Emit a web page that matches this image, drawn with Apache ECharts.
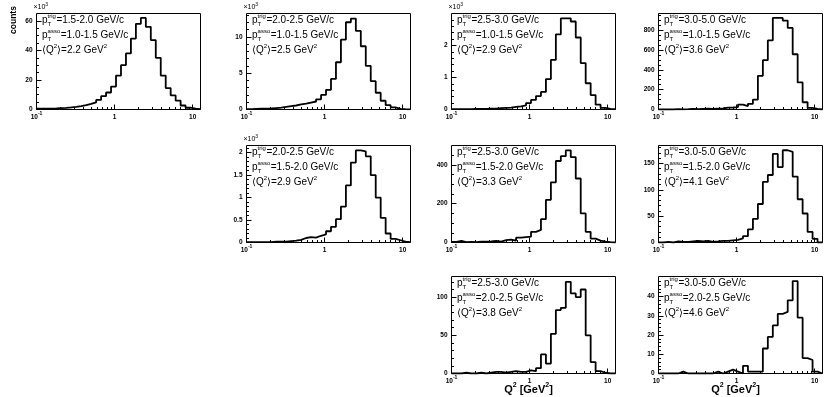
<!DOCTYPE html>
<html>
<head>
<meta charset="utf-8">
<script src="https://cdn.jsdelivr.net/npm/echarts@6/dist/echarts.min.js"></script>
<style>
html, body { margin: 0; padding: 0; background: #fff; }
#main { width: 830px; height: 397px; }
</style>
</head>
<body>
<div id="main"></div>
<script>
// bin edges of the Q^2 histograms (log spaced, GeV^2)
var edges = [0.1, 0.1158, 0.1341, 0.1552, 0.1797, 0.2080, 0.2409, 0.2789, 0.3229, 0.3739,
    0.4329, 0.5012, 0.5803, 0.6718, 0.7779, 0.9006, 1.0427, 1.2073, 1.3978, 1.6184,
    1.8738, 2.1695, 2.5119, 2.9084, 3.3674, 3.8989, 4.5142, 5.2264, 6.0508, 7.0057,
    8.1113, 9.3913, 10.873, 12.589];

// counts per bin (panels with x10^3 are in thousands)
var p1 = [0.5, 0.6, 0.6, 0.7, 0.9, 1.1, 1.4, 1.8, 2.3, 3.0, 3.8, 4.8, 6.5, 9.0, 11.5, 15.5, 23, 30, 38, 48, 58, 62, 56, 47, 35, 23, 14.5, 9.5, 6, 2.7, 1.2, 0.6, 0.3];
var p2 = [0.06, 0.08, 0.1, 0.12, 0.15, 0.2, 0.25, 0.35, 0.45, 0.55, 0.7, 0.8, 0.95, 1.1, 1.4, 2.0, 2.7, 4.2, 6.5, 9.6, 12.0, 12.5, 10.8, 8.7, 6.0, 3.9, 2.3, 1.2, 0.6, 0.3, 0.1, 0.05, 0.02];
var p3 = [0.01, 0.01, 0.01, 0.01, 0.02, 0.02, 0.02, 0.03, 0.03, 0.04, 0.05, 0.06, 0.08, 0.1, 0.13, 0.2, 0.3, 0.42, 0.55, 0.95, 1.55, 2.35, 2.85, 2.85, 2.75, 2.25, 1.45, 0.82, 0.45, 0.15, 0.05, 0.02, 0.01];
var p4 = [0, 2, 0, 3, 2, 3, 5, 4, 6, 8, 5, 8, 10, 18, 20, 25, 50, 35, 57, 100, 340, 497, 697, 923, 923, 897, 823, 557, 273, 73, 17, 7, 0];
var p5 = [0.01, 0.01, 0.01, 0.01, 0.01, 0.02, 0.02, 0.02, 0.03, 0.04, 0.06, 0.1, 0.12, 0.11, 0.15, 0.18, 0.25, 0.35, 0.52, 0.8, 1.27, 1.78, 2.05, 2.03, 1.92, 1.5, 1.0, 0.55, 0.2, 0.08, 0.05, 0.02, 0.01];
var p6 = [3, 8, 2, 3, 2, 4, 5, 6, 8, 5, 12, 15, 10, 25, 28, 30, 55, 65, 120, 220, 310, 420, 445, 475, 440, 330, 150, 55, 20, 10, 5, 2, 0];
var p7 = [0, 1, 0, 2, 1, 1, 2, 3, 2, 3, 1, 2, 3, 3, 4, 5, 8, 12, 25, 45, 73, 115, 128, 168, 143, 175, 172, 125, 82, 55, 20, 7, 0];
var p8 = [0, 0, 1, 0, 0, 1, 0, 1, 2, 2, 1, 2, 3, 2, 2, 4, 3, 7, 25, 13, 52, 83, 86, 120, 105, 100, 110, 50, 15, 3, 1, 0, 0];
var p9 = [0, 0, 0, 0, 1, 0, 0, 0, 0, 0, 0, 1, 0, 1, 2, 1, 0, 4, 1, 1, 1, 13, 19, 25, 31, 32, 38, 48, 29, 8, 7, 1, 0];

// panel labels
var trigRange = ['1.5-2.0', '2.0-2.5', '2.5-3.0', '3.0-5.0', '2.0-2.5', '2.5-3.0', '3.0-5.0', '2.5-3.0', '3.0-5.0'];
var assoRange = ['1.0-1.5', '1.0-1.5', '1.0-1.5', '1.0-1.5', '1.5-2.0', '1.5-2.0', '1.5-2.0', '2.0-2.5', '2.0-2.5'];
var meanQ2 = ['2.2', '2.5', '2.9', '3.6', '2.9', '3.3', '4.1', '3.8', '4.6'];

// tick labels
var xTicks = [0.1, 1, 10];
var xMinorTicks = [0.2, 0.3, 0.4, 0.5, 0.6, 0.7, 0.8, 0.9, 2, 3, 4, 5, 6, 7, 8, 9];
var yTicks = [
    [0, 20, 40, 60], [0, 5, 10], [0, 1, 2], [0, 200, 400, 600, 800],
    [0, 0.5, 1, 1.5, 2], [0, 200, 400], [0, 50, 100, 150], [0, 50, 100], [0, 10, 20, 30, 40]
];

var FONT = '"Liberation Sans", Arial, sans-serif';
var colLeft = [36.5, 246.5, 451.5, 658.5];
var rowTop = [13.5, 145.5, 276.5];
var rowH = [96, 97, 97];
var W = 164;

var panels = [
    {col: 0, row: 0, data: p1, ymax: 65, step: 20, minor: 4, exp: true},
    {col: 1, row: 0, data: p2, ymax: 13.2, step: 5, minor: 5, exp: true},
    {col: 2, row: 0, data: p3, ymax: 3.0, step: 1, minor: 5, exp: true},
    {col: 3, row: 0, data: p4, ymax: 968, step: 200, minor: 4},
    {col: 1, row: 1, data: p5, ymax: 2.16, step: 0.5, minor: 5, exp: true},
    {col: 2, row: 1, data: p6, ymax: 500, step: 200, minor: 4},
    {col: 3, row: 1, data: p7, ymax: 184, step: 50, minor: 5},
    {col: 2, row: 2, data: p8, ymax: 127, step: 50, minor: 5, title: true},
    {col: 3, row: 2, data: p9, ymax: 50.4, step: 10, minor: 5, title: true}
];

var ctx = document.createElement('canvas').getContext('2d');
function measure(s, size, bold) {
    ctx.font = (bold ? 'bold ' : '') + size + 'px ' + FONT;
    return ctx.measureText(s).width;
}
var graphics = [];
function txt(x, y, s, size, bold) {
    return {
        type: 'text', x: x, y: y, silent: true,
        style: {
            text: s, font: (bold ? 'bold ' : '') + size + 'px ' + FONT, fill: '#000',
            textAlign: 'left', textVerticalAlign: 'middle', align: 'left', verticalAlign: 'middle'
        }
    };
}
function addPieces(x, y, pieces, bold) {
    pieces.forEach(function (pc) {
        if (pc.sup !== undefined) {
            graphics.push(txt(x, y - 4, pc.sup, pc.s, bold));
            graphics.push(txt(x, y + 4, pc.sub, pc.s, bold));
            x += Math.max(measure(pc.sup, pc.s, bold), measure(pc.sub, pc.s, bold)) + 0.5;
        } else {
            graphics.push(txt(x, y + (pc.dy || 0), pc.t, pc.s, bold));
            x += measure(pc.t, pc.s, bold);
        }
    });
    return x;
}
function piecesWidth(pieces, bold) {
    var w = 0;
    pieces.forEach(function (pc) { w += measure(pc.t, pc.s, bold); });
    return w;
}

function histPoints(vals) {
    var pts = [];
    for (var k = 0; k < vals.length; k++) {
        pts.push([edges[k], vals[k]]);
    }
    pts.push([edges[vals.length], vals[vals.length - 1]]);
    pts.push([edges[vals.length], 0]);
    return pts;
}

var grids = [], xAxes = [], yAxes = [], series = [];
var TS = 10, SS = 6;
var LBL = 6.5;

panels.forEach(function (pn, i) {
    var left = colLeft[pn.col], top = rowTop[pn.row], h = rowH[pn.row];
    grids.push({
        left: left, top: top, width: W, height: h,
        show: true, borderColor: '#000', borderWidth: 1, backgroundColor: 'transparent',
        outerBoundsMode: 'none', containLabel: false
    });
    xAxes.push({
        type: 'log', logBase: 10, gridIndex: i, position: 'bottom',
        min: edges[0], max: edges[edges.length - 1],
        axisLine: {show: false}, splitLine: {show: false},
        axisTick: {show: true, inside: true, length: 5, customValues: xTicks, lineStyle: {color: '#000', width: 1}},
        axisLabel: {
            customValues: xTicks, margin: 2, color: '#000', fontFamily: FONT, fontSize: LBL, fontWeight: 'bold',
            formatter: function (v) {
                var e = Math.round(Math.log(v) / Math.LN10);
                if (e === 0) return '{m|1}';
                if (e === 1) return '{m|10}';
                return '{m|10}{s|' + e + '}';
            },
            rich: {
                m: {fontSize: LBL, lineHeight: 9, verticalAlign: 'bottom', fontFamily: FONT, fontWeight: 'bold', color: '#000'},
                s: {fontSize: 5, lineHeight: 5, verticalAlign: 'top', fontFamily: FONT, fontWeight: 'bold', color: '#000'}
            }
        }
    });
    xAxes.push({
        type: 'log', logBase: 10, gridIndex: i, position: 'bottom',
        min: edges[0], max: edges[edges.length - 1],
        axisLine: {show: false}, splitLine: {show: false}, axisLabel: {show: false},
        axisTick: {show: true, inside: true, length: 2.5, customValues: xMinorTicks, lineStyle: {color: '#000', width: 1}}
    });
    yAxes.push({
        type: 'value', gridIndex: i, min: 0, max: pn.ymax, interval: pn.step,
        axisLine: {show: false}, splitLine: {show: false},
        axisTick: {show: true, inside: true, length: 5, customValues: yTicks[i], lineStyle: {color: '#000', width: 1}},
        minorTick: {show: true, splitNumber: pn.minor, length: 2.5, lineStyle: {color: '#000', width: 1}},
        minorSplitLine: {show: false},
        axisLabel: {customValues: yTicks[i], margin: 4, color: '#000', fontFamily: FONT, fontSize: LBL, fontWeight: 'bold'}
    });
    series.push({
        type: 'line', xAxisIndex: 2 * i, yAxisIndex: i, step: 'end', symbol: 'none',
        data: histPoints(pn.data), lineStyle: {color: '#000', width: 1.8},
        animation: false, silent: true
    });

    // panel text
    var x0 = left + 5.5;
    addPieces(x0, top + 7, [{t: 'p', s: TS}, {sup: 'trig', sub: 'T', s: SS}, {t: '=' + trigRange[i] + ' GeV/c', s: TS}]);
    addPieces(x0, top + 22, [{t: 'p', s: TS}, {sup: 'asso', sub: 'T', s: SS}, {t: '=' + assoRange[i] + ' GeV/c', s: TS}]);
    addPieces(x0, top + 37, [{t: '\u27E8Q', s: TS}, {t: '2', s: SS, dy: -4}, {t: '\u27E9=' + meanQ2[i] + ' GeV', s: TS}, {t: '2', s: SS, dy: -4}]);

    if (pn.exp) {
        addPieces(left - 3, top - 6, [{t: '\u00D710', s: 7}, {t: '3', s: 5, dy: -3}]);
    }
    if (pn.title) {
        var tp = [{t: 'Q', s: 11}, {t: '2', s: 7, dy: -4}, {t: ' [GeV', s: 11}, {t: '2', s: 7, dy: -4}, {t: ']', s: 11}];
        var tw = piecesWidth(tp, true);
        addPieces(left + 77 - tw / 2, top + h + 16, tp, true);
    }
});

graphics.push({
    type: 'text', x: 14, y: 20, rotation: Math.PI / 2, silent: true,
    style: {
        text: 'counts', font: 'bold 8.5px ' + FONT, fill: '#000',
        textAlign: 'center', textVerticalAlign: 'middle', align: 'center', verticalAlign: 'middle'
    }
});

var chart = echarts.init(document.getElementById('main'), null, {renderer: 'canvas'});
chart.setOption({
    animation: false,
    backgroundColor: '#fff',
    grid: grids,
    xAxis: xAxes,
    yAxis: yAxes,
    series: series,
    graphic: {elements: graphics}
});
</script>
</body>
</html>
